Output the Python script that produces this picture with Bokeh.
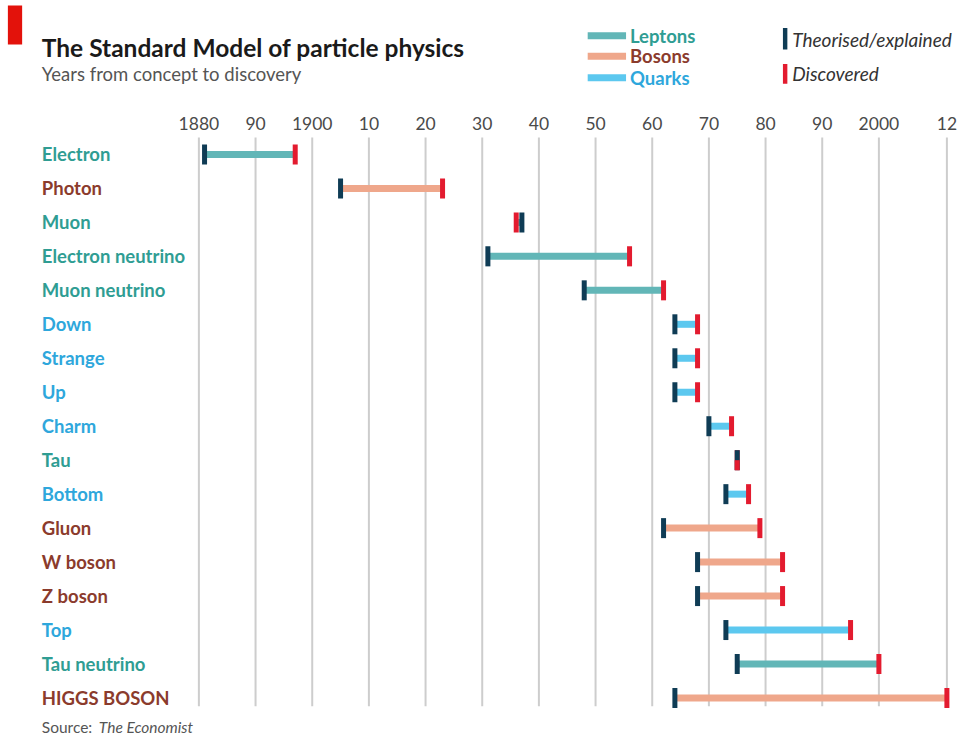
from bokeh.plotting import figure
from bokeh.models import Range1d
from bokeh.core.properties import value
from bokeh.embed import file_html
from bokeh.resources import INLINE

# ---------------- data ----------------
particles = ["Electron", "Photon", "Muon", "Electron neutrino", "Muon neutrino",
             "Down", "Strange", "Up", "Charm", "Tau", "Bottom", "Gluon",
             "W boson", "Z boson", "Top", "Tau neutrino", "HIGGS BOSON"]
family = ["Leptons", "Bosons", "Leptons", "Leptons", "Leptons",
          "Quarks", "Quarks", "Quarks", "Quarks", "Leptons", "Quarks", "Bosons",
          "Bosons", "Bosons", "Quarks", "Leptons", "Bosons"]
theorised = [1881, 1905, 1937, 1931, 1948, 1964, 1964, 1964, 1970, 1975, 1973,
             1962, 1968, 1968, 1973, 1975, 1964]
discovered = [1897, 1923, 1936, 1956, 1962, 1968, 1968, 1968, 1974, 1975, 1977,
              1979, 1983, 1983, 1995, 2000, 2012]
tick_years = [1880, 1890, 1900, 1910, 1920, 1930, 1940, 1950, 1960, 1970, 1980,
              1990, 2000, 2012]
tick_labels = ["1880", "90", "1900", "10", "20", "30", "40", "50", "60", "70",
               "80", "90", "2000", "12"]
legend_families = ["Leptons", "Bosons", "Quarks"]
legend_markers = ["Theorised/explained", "Discovered"]

# ---------------- styles ----------------
FONT = value("Lato")
BAR_COLOR = {"Leptons": "#62b6b7", "Bosons": "#efa78b", "Quarks": "#5cc8ef"}
TEXT_COLOR = {"Leptons": "#2f9d93", "Bosons": "#8b3b2c", "Quarks": "#2ea7dc"}
DARK = "#0f3c55"
RED = "#e31b2f"
GRID = "#cdcdcd"

W, H = 958, 735
SX, SY = W / 974, H / 751          # design grid (974x751) -> canvas


def X(v):
    return v * SX


def Y(v):
    return v * SY


PX0, PX1 = X(201.7), X(962.2)      # pixel positions of first / last tick
ppy = (PX1 - PX0) / (tick_years[-1] - tick_years[0])
x0 = tick_years[0] - PX0 / ppy
x1 = x0 + W / ppy
ROW0, ROWH = Y(157.3), Y(34.71)    # pixel centre of first row, row pitch
y_bottom = (H - ROW0) / ROWH
y_top = -ROW0 / ROWH

p = figure(width=W, height=H, x_range=Range1d(x0, x1),
           y_range=Range1d(y_bottom, y_top),
           output_backend="svg", toolbar_location=None,
           x_axis_location=None, y_axis_location=None, min_border=0)
p.grid.visible = False
p.outline_line_color = None
p.background_fill_color = "white"
p.extra_x_ranges = {"px": Range1d(0, W)}
p.extra_y_ranges = {"px": Range1d(H, 0)}

rows = list(range(len(particles)))
n = len(rows)
grid_top = (Y(140) - ROW0) / ROWH
grid_bot = (Y(721) - ROW0) / ROWH

# gridlines
p.segment(x0=tick_years, y0=[grid_top] * len(tick_years), x1=tick_years,
          y1=[grid_bot] * len(tick_years), line_color=GRID, line_width=2)

# tick labels
p.text(x=tick_years, y=[Y(125.5)] * len(tick_years), text=tick_labels,
       y_range_name="px", text_font=FONT, text_font_size="17.5px",
       text_color="#4a4a4a", text_align="center", text_baseline="middle")

# row labels
p.text(x=[X(42)] * n, y=rows, text=particles, x_range_name="px",
       text_font=FONT, text_font_size="18.5px", text_font_style="bold",
       text_color=[TEXT_COLOR[f] for f in family],
       text_align="left", text_baseline="middle")

# bars
p.segment(x0=theorised, y0=rows, x1=discovered, y1=rows,
          line_color=[BAR_COLOR[f] for f in family], line_width=7, line_cap="butt")

# markers
p.rect(x=discovered, y=rows, width=5, height=20, width_units="screen",
       height_units="screen", fill_color=RED, line_color=None)
p.rect(x=theorised, y=rows, width=5, height=20, width_units="screen",
       height_units="screen", fill_color=DARK, line_color=None)
same = [i for i in rows if theorised[i] == discovered[i]]
p.rect(x=[discovered[i] for i in same], y=[i + 5 / ROWH for i in same],
       width=5, height=10, width_units="screen", height_units="screen",
       fill_color=RED, line_color=None)

# ---------------- header ----------------
p.quad(left=[X(7.5)], right=[X(22)], top=[Y(5)], bottom=[Y(45)], x_range_name="px",
       y_range_name="px", fill_color="#e3120b", line_color=None)
p.text(x=[X(42)], y=[Y(48)], text=["The Standard Model of particle physics"],
       x_range_name="px", y_range_name="px", text_font=FONT,
       text_font_size="24.5px", text_font_style="bold", text_color="#1a1a1a",
       text_baseline="alphabetic")
p.text(x=[X(42)], y=[Y(75)], text=["Years from concept to discovery"],
       x_range_name="px", y_range_name="px", text_font=FONT,
       text_font_size="18.5px", text_color="#555555", text_baseline="alphabetic")

# legend: families
leg_y = [Y(36), Y(57), Y(79)]
p.segment(x0=[X(597)] * 3, y0=leg_y, x1=[X(636)] * 3, y1=leg_y, x_range_name="px",
          y_range_name="px", line_color=[BAR_COLOR[f] for f in legend_families],
          line_width=7)
p.text(x=[X(640)] * 3, y=leg_y, text=legend_families, x_range_name="px",
       y_range_name="px", text_font=FONT, text_font_size="18.5px",
       text_font_style="bold", text_color=[TEXT_COLOR[f] for f in legend_families],
       text_baseline="middle")

# legend: markers
p.quad(left=[X(795.5)] * 2, right=[X(800)] * 2, top=[Y(28), Y(65)],
       bottom=[Y(50), Y(85)], x_range_name="px", y_range_name="px",
       fill_color=[DARK, RED], line_color=None)
p.text(x=[X(805)] * 2, y=[Y(40), Y(75)], text=legend_markers, x_range_name="px",
       y_range_name="px", text_font=FONT, text_font_size="19px",
       text_font_style="italic", text_color="#333333", text_baseline="middle")

# source
p.text(x=[X(42)], y=[H - 9], text=["Source:"], x_range_name="px", y_range_name="px",
       text_font=FONT, text_font_size="15.5px", text_color="#555555",
       text_baseline="alphabetic")
p.text(x=[X(100)], y=[H - 9], text=["The Economist"], x_range_name="px",
       y_range_name="px", text_font=FONT, text_font_size="15.5px",
       text_font_style="italic", text_color="#555555", text_baseline="alphabetic")

open("out.html", "w").write(file_html(p, INLINE))
